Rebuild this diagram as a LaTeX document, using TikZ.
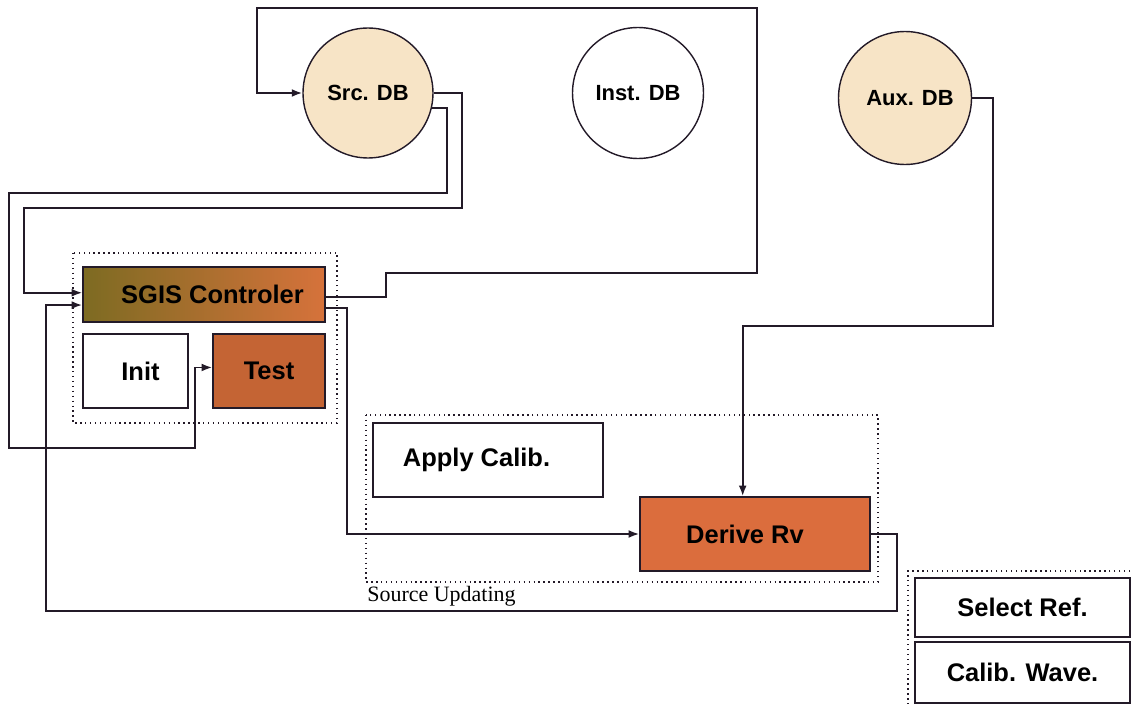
\documentclass[tikz,border=0pt]{standalone}
\usepackage{fontspec}
\setmainfont{Liberation Sans}
\newfontfamily\timesfont{Liberation Serif}
\usepackage{tikz}
\usetikzlibrary{arrows.meta}
\definecolor{peach}{HTML}{F7E4C6}
\definecolor{ctrlleft}{HTML}{7D6B22}
\definecolor{ctrlright}{HTML}{D6723B}
\definecolor{testbrown}{HTML}{C46434}
\definecolor{derorange}{HTML}{DB6D3D}
\definecolor{ink}{HTML}{231A28}
\tikzstyle{db}=[draw=ink,circle,line width=0.8pt,inner sep=0,font=\fontsize{12.5}{14}\selectfont\bfseries]
\tikzstyle{blk}=[draw=ink,rectangle,line width=1pt,inner sep=0,font=\fontsize{14.5}{16}\selectfont\bfseries]
\tikzstyle{grp}=[draw=ink,dotted,line width=0.8pt]
\tikzstyle{arr}=[draw=ink,line width=1pt,-{Latex[length=6pt,width=4.5pt]}]

\begin{document}
\begin{tikzpicture}[x=0.02cm,y=-0.02cm]
    \useasboundingbox (0,0) rectangle (1134,706);

    % data bases
    \node[db,fill=peach,minimum size=2.6cm] (src) at (368,93) {Src. DB};
    \node[db,minimum size=2.62cm] (inst) at (638,93) {Inst. DB};
    \node[db,fill=peach,minimum size=2.66cm] (aux) at (905,98) {\hspace*{0.2cm}Aux. DB};

    % controller group
    \draw[grp] (73,253) rectangle (337,423);
    \node[blk,left color=ctrlleft,right color=ctrlright,minimum width=4.84cm,minimum height=1.1cm] (ctrl) at (204,294.5) {\hspace*{0.34cm}SGIS Controler};
    \node[blk,fill=white,minimum width=2.1cm,minimum height=1.48cm] (init) at (135.5,371) {\hspace*{0.2cm}Init};
    \node[blk,fill=testbrown,minimum width=2.24cm,minimum height=1.48cm] (test) at (269,371) {Test};

    % source updating
    \draw[grp] (366,415) rectangle (878,582);
    \node[anchor=north west,inner sep=0,font=\timesfont\fontsize{12.5}{14}\selectfont] (srcupd) at (367,586) {Source Updating};
    \node[blk,fill=white,minimum width=4.6cm,minimum height=1.48cm] (apply) at (488,460) {Apply Calib.\hspace*{0.46cm}};
    \node[blk,fill=derorange,minimum width=4.6cm,minimum height=1.48cm] (derive) at (755,534) {Derive Rv\hspace*{0.4cm}};

    % calibration
    \draw[grp] (1140,571) -- (908,571) -- (908,712);
    \node[blk,fill=white,minimum width=4.3cm,minimum height=1.18cm] (selref) at (1022.5,607.5) {Select Ref.};
    \node[blk,fill=white,minimum width=4.3cm,minimum height=1.22cm] (calwave) at (1022.5,672.5) {Calib. Wave.};

    % connectors
    \draw[arr] ([yshift=-1.5pt]ctrl.east) -| (386,273) -| (757,8) -| (257,93) -- (src);
    \draw[arr] (src.east) -| (462,208) -- (24,208) |- ([yshift=1pt]ctrl.west);
    \draw[arr] (src.-13) -| (447,193) -- (9,193) |- (195,448) |- ([yshift=2pt]test.west);
    \draw[arr] (derive.east) -| (897,611) -- (46,611) |- ([yshift=-6pt]ctrl.west);
    \draw[arr] ([yshift=-7.5pt]ctrl.east) -| (347,400) |- (derive.west);
    \draw[arr] (aux.east) -| (993,326) -| ([xshift=-7pt]derive.north);

\end{tikzpicture}
\end{document}
